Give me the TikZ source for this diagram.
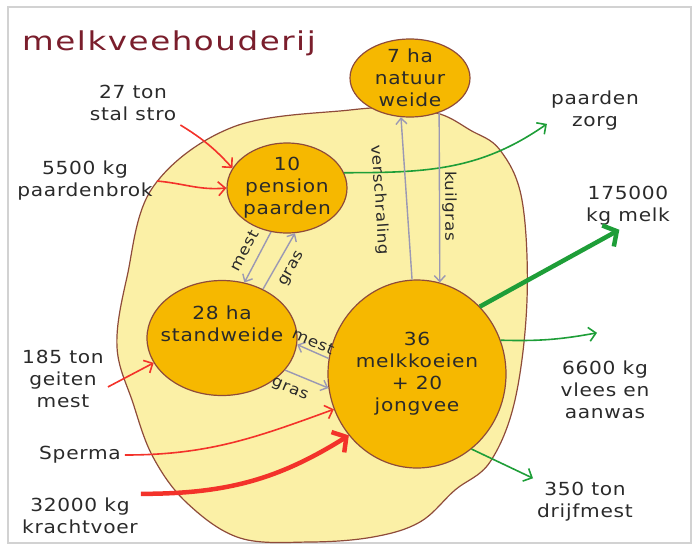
\documentclass[tikz,border=0pt]{standalone}
\usepackage{fontspec}
\newfontfamily\hand[FakeStretch=1.12, LetterSpace=4]{DejaVu Sans}
\newfontfamily\handtitle[FakeStretch=1.25, LetterSpace=6]{DejaVu Sans}
\usetikzlibrary{shapes.geometric,arrows.meta,positioning}

\definecolor{fieldyellow}{HTML}{FBF0A6}
\definecolor{blobgold}{HTML}{F6B800}
\definecolor{rim}{HTML}{8E4B3A}
\definecolor{titlered}{HTML}{7A1E2C}
\definecolor{inred}{HTML}{F3322A}
\definecolor{outgreen}{HTML}{1E9E38}
\definecolor{flowgray}{HTML}{9A98B4}
\definecolor{ink}{HTML}{2A2A2A}

\begin{document}
\begin{tikzpicture}[%
	x=1pt, y=1pt,
	every node/.style={font=\hand\fontsize{18}{22}\selectfont, text=ink},
	>={Straight Barb[length=7pt, width=14pt]},  % open hand-drawn heads
	]
	% -------------------------------------------------
	% Styles for the farm picture
	\tikzset{
		blob/.style={ellipse, draw=rim, line width=1.2pt, fill=blobgold, inner sep=-20pt, align=center},
		lbl/.style={align=center, inner sep=4pt},
		small/.style={font=\hand\fontsize{15}{18}\selectfont, inner sep=1pt},
		titel/.style={font=\handtitle\fontsize{26}{30}\selectfont, text=titlered, inner sep=0pt},
		% connector styles
		infl/.style={->, draw=inred, line width=1.6pt},
		outfl/.style={->, draw=outgreen, line width=1.6pt},
		intern/.style={->, draw=flowgray, line width=1.4pt, >={Straight Barb[length=6pt, width=11pt]}},
		big/.style={line width=4.5pt, -{Straight Barb[length=10pt, width=24pt]}}
	}
	\useasboundingbox (0,0) rectangle (698,-547);
	\draw[gray!35, line width=1.5pt] (8,-7) rectangle (691,-543);

	% the farm itself
	\draw[draw=rim, fill=fieldyellow, line width=1.2pt] plot[smooth cycle, tension=0.6] coordinates {
		(350,-110) (233,-127) (153,-187) (127,-277) (117,-347) (133,-403) (153,-457)
		(187,-503) (240,-538) (310,-542) (373,-537) (420,-522) (455,-490) (490,-462)
		(515,-400) (527,-300) (522,-200) (500,-150) (470,-130) (440,-114) (400,-108)};

	\node[titel, anchor=base west]	(kop)		at (22,-50)		{melkveehouderij};

	\node[blob, minimum width=120pt, minimum height=78pt]	(natuur)	at (410,-78)	{7 ha\\natuur\\weide};
	\node[blob, minimum width=120pt, minimum height=90pt]	(pension)	at (287,-188)	{10\\pension\\paarden};
	\node[blob, minimum width=150pt, minimum height=115pt]	(stand)		at (222,-338)	{28 ha\\standweide\\[6pt]};
	\node[blob, minimum width=178pt, minimum height=188pt]	(melk)		at (417,-374)	{36\\melkkoeien\\+ 20\\jongvee};

	% inputs
	\node[lbl]	(stro)		at (133,-103)	{27 ton\\stal stro};
	\node[lbl]	(brok)		at (85,-181)	{5500 kg\\paardenbrok};
	\node[lbl]	(geiten)	at (63,-379)	{185 ton\\geiten\\mest};
	\node[lbl]	(sperma)	at (80,-455)	{Sperma};
	\node[lbl]	(kracht)	at (80,-516)	{32000 kg\\krachtvoer};
	% outputs
	\node[lbl]	(zorg)		at (595,-111)	{paarden\\zorg};
	\node[lbl]	(melkout)	at (628,-206)	{175000\\kg melk};
	\node[lbl]	(vlees)		at (605,-390)	{6600 kg\\vlees en\\aanwas};
	\node[lbl]	(drijf)		at (585,-502)	{350 ton\\drijfmest};
	\coordinate[above=24pt of vlees.north, xshift=-8pt] (vleestip);

	\draw[infl] (stro.south east) to[bend left=8] (pension.160);
	\draw[infl] (brok.east) to[out=-5, in=185] (pension.west);
	\draw[infl] (geiten.-10) -- (stand.200);
	\draw[infl] (sperma.east) to[out=0, in=200] (melk.203);
	\draw[infl, big] (kracht.20) to[out=0, in=212] (melk.222);

	\draw[outfl] (pension.15) to[out=0, in=215] (zorg.195);
	\draw[outfl, big, draw=outgreen] (melk.47) -- (melkout.250);
	\draw[outfl] (melk.22) to[bend right=6] (vleestip);
	\draw[outfl] (melk.-54) -- (drijf.north west);

	% flows between the parts
	\draw[intern, <-] (natuur.-103) -- (melk.93) node[small, midway, sloped, below=18pt] {verschraling};
	\draw[intern] (natuur.-50) -- (melk.76) node[small, pos=0.55, sloped, above=1pt] {kuilgras};
	\draw[intern] (pension.-110) -- (stand.68) node[small, midway, sloped, above=8pt] {mest};
	\draw[intern] (stand.50) -- (pension.-80) node[small, midway, sloped, below=8pt] {gras};
	\draw[intern] (melk.170) -- (stand.-5) node[small, pos=0.6, sloped, above=2pt] {mest};
	\draw[intern] (stand.-27) -- (melk.189) node[small, pos=0.25, sloped, below=9pt] {gras};
\end{tikzpicture}
\end{document}
